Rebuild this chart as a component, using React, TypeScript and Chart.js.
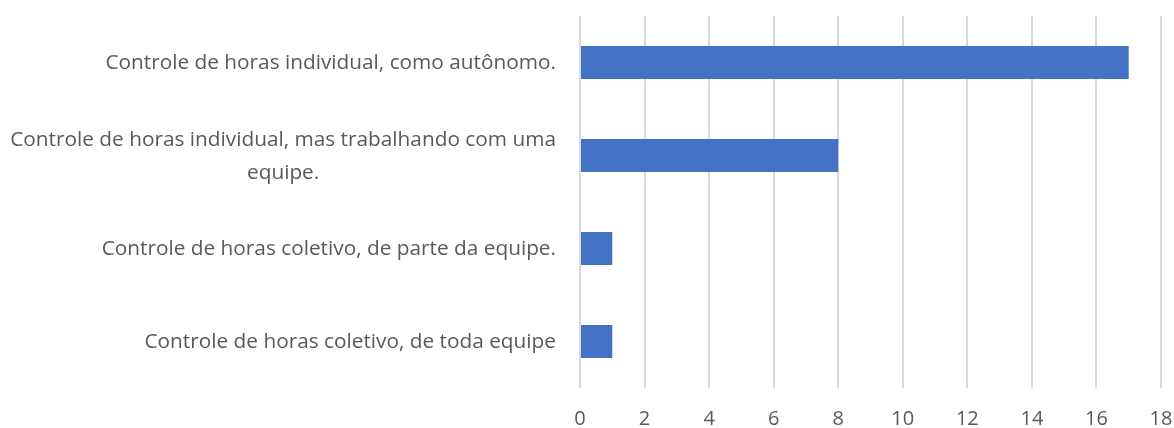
import React, { useEffect, useRef } from "react";
import { Chart, registerables } from "chart.js";

Chart.register(...registerables);

const categories = [
  "Controle de horas individual, como autônomo.",
  "Controle de horas individual, mas trabalhando com uma equipe.",
  "Controle de horas coletivo, de parte da equipe.",
  "Controle de horas coletivo, de toda equipe",
];
const values = [17, 8, 1, 1];
const xMin = 0;
const xMax = 18;
const xStep = 2;

const FONT_FAMILY = "'Open Sans', 'Noto Sans', 'Liberation Sans', sans-serif";
const LABEL_SIZE = 20.8;
const TEXT_COLOR = "#595959";

function wrapText(ctx: CanvasRenderingContext2D, text: string, maxW: number): string[] {
  const words = text.split(" ");
  const lines: string[] = [];
  let cur = "";
  for (const w of words) {
    const test = cur ? cur + " " + w : w;
    if (ctx.measureText(test).width > maxW && cur) {
      lines.push(cur);
      cur = w;
    } else {
      cur = test;
    }
  }
  if (cur) lines.push(cur);
  return lines;
}

const labelPlugin = {
  id: "excelLabels",
  afterDraw(chart: any) {
    const ctx: CanvasRenderingContext2D = chart.ctx;
    const yScale = chart.scales.y;
    const rightX = chart.chartArea.left - 24;
    ctx.save();
    ctx.font = `${LABEL_SIZE}px ${FONT_FAMILY}`;
    ctx.fillStyle = TEXT_COLOR;
    ctx.textBaseline = "middle";
    const lineH = 33;
    categories.forEach((cat, i) => {
      const y = yScale.getPixelForTick(i) + 1;
      const lines = wrapText(ctx, cat, rightX - 2);
      if (lines.length === 1) {
        ctx.textAlign = "right";
        ctx.fillText(lines[0], rightX, y);
      } else {
        const maxW = Math.max(...lines.map((l) => ctx.measureText(l).width));
        const cx = rightX - maxW / 2;
        ctx.textAlign = "center";
        const startY = y - ((lines.length - 1) * lineH) / 2;
        lines.forEach((l, j) => ctx.fillText(l, cx, startY + j * lineH));
      }
    });
    ctx.restore();
  },
};

export default function App() {
  const ref = useRef<HTMLCanvasElement | null>(null);
  useEffect(() => {
    if (!ref.current) return;
    const chart = new Chart(ref.current, {
      type: "bar",
      data: {
        labels: categories,
        datasets: [
          {
            data: values,
            backgroundColor: "#4472C4",
            borderWidth: 0,
            categoryPercentage: 1,
            barPercentage: 0.355,
          },
        ],
      },
      options: {
        indexAxis: "y",
        animation: false,
        responsive: false,
        maintainAspectRatio: false,
        layout: { padding: { top: 16, right: 0, left: 0, bottom: 0 } },
        plugins: {
          legend: { display: false },
          tooltip: { enabled: false },
        },
        scales: {
          x: {
            min: xMin,
            max: xMax,
            ticks: {
              stepSize: xStep,
              color: TEXT_COLOR,
              font: { size: 20, family: FONT_FAMILY },
              padding: 19,
              maxRotation: 0,
            },
            grid: {
              color: "#d9d9d9",
              lineWidth: 2,
              drawTicks: false,
            },
            border: { display: false },
            afterFit: (scale: any) => {
              scale.height = 40;
              scale.paddingRight = 13;
              scale.paddingLeft = 0;
            },
          },
          y: {
            ticks: { display: false },
            grid: { display: false },
            border: { display: false },
            afterFit: (scale: any) => {
              scale.width = 580;
            },
          },
        },
      },
      plugins: [labelPlugin],
    });
    return () => chart.destroy();
  }, []);
  return (
    <div style={{ position: "fixed", left: 0, top: 0, width: 1174, height: 428, background: "#fff" }}>
      <canvas ref={ref} width={1174} height={428} style={{ width: 1174, height: 428 }} />
    </div>
  );
}
